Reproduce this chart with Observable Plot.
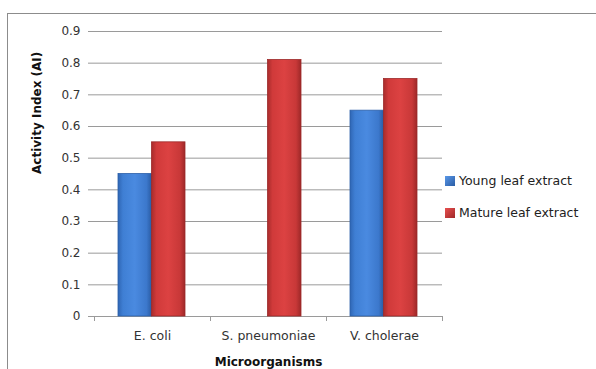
<!DOCTYPE html>
<html>
<head>
<meta charset="utf-8">
<script src="https://cdn.jsdelivr.net/npm/d3@7"></script>
<script src="https://cdn.jsdelivr.net/npm/@observablehq/plot@0.6"></script>
<style>
  html, body { margin: 0; padding: 0; background: #fff; }
  #wrap { position: relative; width: 596px; height: 369px; overflow: hidden; font-family: "DejaVu Sans", sans-serif; }
  #frame { position: absolute; left: 7px; top: 13px; width: 600px; height: 400px; border-left: 1px solid #8c8c8c; border-top: 1px solid #8c8c8c; box-sizing: border-box; }
  #legend { position: absolute; left: 445px; top: 172px; font-size: 12.5px; color: #222; }
  .item { display: flex; align-items: center; height: 17px; margin-bottom: 15px; }
  .sw { width: 10px; height: 10px; margin-right: 4px; box-sizing: border-box; }
</style>
</head>
<body>
<div id="wrap">
  <div id="frame"></div>
  <div id="chart"></div>
  <div id="legend"></div>
</div>
<script>
const categories = ["E. coli", "S. pneumoniae", "V. cholerae"];
const series = ["Young leaf extract", "Mature leaf extract"];
const young = [0.45, 0, 0.65];
const mature = [0.55, 0.81, 0.75];
const yTicks = [0, 0.1, 0.2, 0.3, 0.4, 0.5, 0.6, 0.7, 0.8, 0.9];
const xTitle = "Microorganisms";
const yTitle = "Activity Index (AI)";

const youngData = categories.map((c, i) => ({category: c, series: series[0], value: young[i]})).filter(d => d.value > 0);
const matureData = categories.map((c, i) => ({category: c, series: series[1], value: mature[i]}));

const chart = Plot.plot({
  width: 596,
  height: 369,
  marginLeft: 94,
  marginRight: 154,
  marginTop: 31,
  marginBottom: 53,
  style: {fontFamily: "DejaVu Sans, sans-serif", fontSize: "12px", color: "#333", background: "transparent"},
  x: {domain: categories, padding: 0},
  y: {domain: [0, 0.9]},
  marks: [
    Plot.gridY(yTicks, {stroke: "#9a9a9a", strokeOpacity: 1}),
    Plot.axisY(yTicks, {tickSize: 6, tickPadding: 8, stroke: "#9a9a9a", tickFormat: d => d === 0 ? "0" : d3.format(".1f")(d), label: null, line: true, fill: "#333", fontSize: 12}),
    Plot.axisX({tickSize: 0, tickPadding: 15, label: null, fill: "#333", fontSize: 12.5}),
    Plot.ruleX(categories, {x: d => d, y1: 0, y2: 0, insetBottom: -5, dx: -58, stroke: "#9a9a9a"}),
    Plot.ruleX(categories.slice(-1), {x: d => d, y1: 0, y2: 0, insetBottom: -5, dx: 58, stroke: "#9a9a9a"}),
    Plot.barY(youngData, {x: "category", y: "value", insetLeft: 24, insetRight: 58.5, fill: "url(#gBlue)", stroke: "#2c5fa8", strokeWidth: 0.8}),
    Plot.barY(matureData, {x: "category", y: "value", insetLeft: 57.5, insetRight: 25, fill: "url(#gRed)", stroke: "#9c2a2a", strokeWidth: 0.8}),
    Plot.text([xTitle], {frameAnchor: "bottom", dy: 49, fontWeight: "bold", fill: "#111", fontSize: 12}),
    Plot.text([yTitle], {frameAnchor: "left", dx: -57, rotate: -90, fontWeight: "bold", fill: "#111", fontSize: 12})
  ]
});

const defs = `
<defs>
  <linearGradient id="gBlue" x1="0" x2="1" y1="0" y2="0">
    <stop offset="0" stop-color="#2f66b4"/>
    <stop offset="0.15" stop-color="#3f7fd4"/>
    <stop offset="0.5" stop-color="#4a8ae0"/>
    <stop offset="0.85" stop-color="#3c78cc"/>
    <stop offset="1" stop-color="#2a5ca4"/>
  </linearGradient>
  <linearGradient id="gRed" x1="0" x2="1" y1="0" y2="0">
    <stop offset="0" stop-color="#a82c2c"/>
    <stop offset="0.15" stop-color="#d03a3a"/>
    <stop offset="0.5" stop-color="#dc4242"/>
    <stop offset="0.85" stop-color="#c83838"/>
    <stop offset="1" stop-color="#9e2828"/>
  </linearGradient>
</defs>`;
chart.insertAdjacentHTML("afterbegin", defs);
document.getElementById("chart").appendChild(chart);

const swatchFill = ["linear-gradient(135deg,#5a98e8,#2a5ca4)", "linear-gradient(135deg,#e85050,#a02828)"];
const legend = document.getElementById("legend");
series.forEach((s, i) => {
  const item = document.createElement("div");
  item.className = "item";
  const sw = document.createElement("div");
  sw.className = "sw";
  sw.style.background = swatchFill[i];
  const t = document.createElement("span");
  t.textContent = s;
  item.appendChild(sw);
  item.appendChild(t);
  legend.appendChild(item);
});
</script>
</body>
</html>
